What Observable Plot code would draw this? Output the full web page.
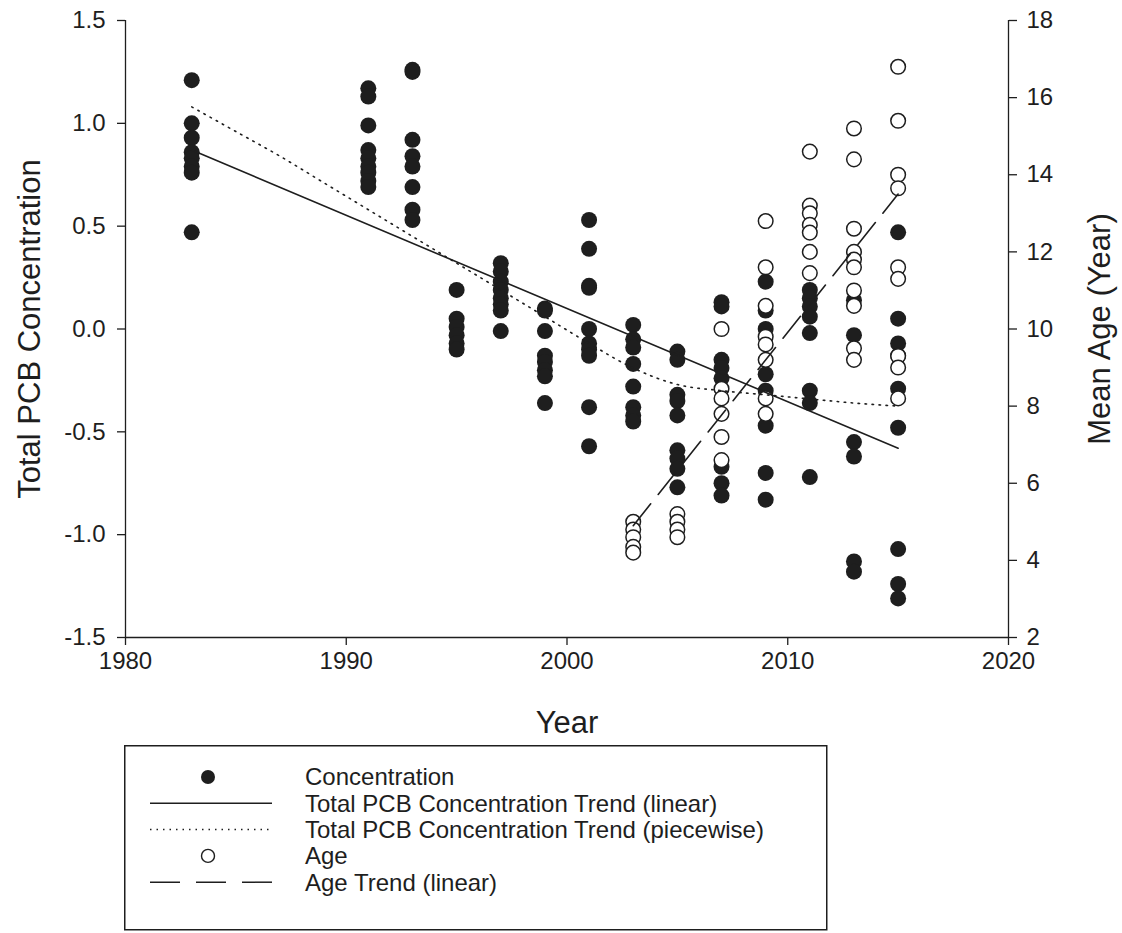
<!DOCTYPE html>
<html>
<head>
<meta charset="utf-8">
<script src="https://cdn.jsdelivr.net/npm/d3@7"></script>
<script src="https://cdn.jsdelivr.net/npm/@observablehq/plot@0.6"></script>
<style>
  body { margin: 0; background: #fff; font-family: "Liberation Sans", Arial, sans-serif; }
  #chart svg { display: block; }
  #legend { display: block; margin-left: 124px; }
</style>
</head>
<body>
<div id="chart"></div>
<svg id="legend" width="704" height="186"></svg>
<script>
// Sampling years and total PCB concentrations (left axis)
const concYears = [1983, 1991, 1993, 1995, 1997, 1999, 2001, 2003, 2005, 2007, 2009, 2011, 2013, 2015];
const concValues = [
  [1.21, 1.00, 0.93, 0.86, 0.83, 0.79, 0.76, 0.47],
  [1.17, 1.13, 0.99, 0.87, 0.83, 0.79, 0.76, 0.72, 0.69],
  [1.26, 1.25, 0.92, 0.84, 0.79, 0.69, 0.58, 0.53],
  [0.19, 0.05, 0.01, -0.03, -0.07, -0.10],
  [0.32, 0.28, 0.23, 0.19, 0.15, 0.12, 0.09, -0.01],
  [0.10, 0.09, -0.01, -0.13, -0.16, -0.20, -0.23, -0.36],
  [0.53, 0.39, 0.21, 0.20, 0.00, -0.07, -0.10, -0.13, -0.38, -0.57],
  [0.02, -0.05, -0.09, -0.17, -0.28, -0.38, -0.42, -0.45],
  [-0.11, -0.15, -0.32, -0.35, -0.42, -0.59, -0.63, -0.68, -0.77],
  [0.13, 0.11, -0.15, -0.19, -0.24, -0.67, -0.75, -0.81],
  [0.23, 0.09, 0.00, -0.22, -0.30, -0.47, -0.70, -0.83],
  [0.19, 0.15, 0.11, 0.06, -0.02, -0.30, -0.36, -0.72],
  [0.14, -0.03, -0.55, -0.62, -1.13, -1.18],
  [0.47, 0.05, -0.07, -0.13, -0.29, -0.48, -1.07, -1.24, -1.31]
];

// Mean fish age per sample (right axis)
const ageYears = [2003, 2005, 2007, 2009, 2011, 2013, 2015];
const ageValues = [
  [5.0, 4.8, 4.6, 4.35, 4.2],
  [5.2, 5.0, 4.8, 4.6],
  [10.0, 8.45, 8.2, 7.8, 7.2, 6.6],
  [12.8, 11.6, 10.6, 9.8, 9.6, 9.2, 8.2, 7.8],
  [14.6, 13.2, 13.0, 12.7, 12.5, 12.0, 11.45],
  [15.2, 14.4, 12.6, 12.0, 11.8, 11.6, 11.0, 10.6, 9.5, 9.2],
  [16.8, 15.4, 14.0, 13.65, 11.6, 11.3, 9.3, 9.0, 8.2]
];

// Fitted trends
const concLinearYears = [1983, 2015];
const concLinearValues = [0.87, -0.58];
const concPiecewiseYears = [1983, 1985, 1987, 1989, 1991, 1993, 1995, 1997, 1999, 2001, 2003, 2005, 2007, 2009, 2011, 2013, 2015];
const concPiecewiseValues = [1.08, 0.96, 0.84, 0.71, 0.58, 0.45, 0.32, 0.19, 0.06, -0.07, -0.19, -0.27, -0.30, -0.32, -0.34, -0.36, -0.375];
const ageTrendYears = [2003, 2015];
const ageTrendValues = [4.9, 13.5];

// Axis ticks
const yearTicks = [1980, 1990, 2000, 2010, 2020];
const concTicks = [-1.5, -1.0, -0.5, 0.0, 0.5, 1.0, 1.5];
const ageTicks = [2, 4, 6, 8, 10, 12, 14, 16, 18];

// The age axis (2–18) shares the frame with the concentration axis (-1.5–1.5)
const ageToConc = a => -1.5 + (a - 2) * 3 / 16;
const concToAge = c => 2 + (c + 1.5) * 16 / 3;

const conc = concYears.flatMap((year, i) => concValues[i].map(value => ({year, value})));
const ages = ageYears.flatMap((year, i) => ageValues[i].map(age => ({year, age})));
const linear = concLinearYears.map((year, i) => ({year, value: concLinearValues[i]}));
const piecewise = concPiecewiseYears.map((year, i) => ({year, value: concPiecewiseValues[i]}));
const ageTrend = ageTrendYears.map((year, i) => ({year, age: ageTrendValues[i]}));

const ink = "#1e1e1e";
const font = "'Liberation Sans', Arial, sans-serif";

const chart = Plot.plot({
  width: 1122,
  height: 745,
  marginLeft: 125,
  marginRight: 114,
  marginTop: 20,
  marginBottom: 108,
  style: {fontFamily: font, fontSize: "24px", color: ink, background: "#fff"},
  x: {domain: [1980, 2020]},
  y: {domain: [-1.5, 1.5]},
  marks: [
    Plot.axisX({ticks: yearTicks, tickFormat: d => String(d), tickSize: 8, tickPadding: 6, label: null, fontSize: 24, stroke: ink, strokeWidth: 1.3}),
    Plot.axisY({ticks: concTicks, tickFormat: v => v.toFixed(1), tickSize: 8, tickPadding: 12, label: null, fontSize: 24, stroke: ink, strokeWidth: 1.3}),
    Plot.axisY({anchor: "right", ticks: ageTicks.map(ageToConc), tickFormat: v => String(Math.round(concToAge(v))), tickSize: 8, tickPadding: 10, label: null, fontSize: 24, stroke: ink, strokeWidth: 1.3}),
    Plot.ruleX([1980], {stroke: ink, strokeWidth: 1.3}),
    Plot.ruleX([2020], {stroke: ink, strokeWidth: 1.3}),
    Plot.ruleY([-1.5], {stroke: ink, strokeWidth: 1.3}),
    Plot.dot(conc, {x: "year", y: "value", r: 8, fill: ink, stroke: "none"}),
    Plot.dot(ages, {x: "year", y: d => ageToConc(d.age), r: 7.3, fill: "#fff", stroke: ink, strokeWidth: 1.5}),
    Plot.line(linear, {x: "year", y: "value", stroke: ink, strokeWidth: 1.6}),
    Plot.line(piecewise, {x: "year", y: "value", curve: "monotone-x", stroke: ink, strokeWidth: 1.6, strokeDasharray: "1.5,5.5"}),
    Plot.line(ageTrend, {x: "year", y: d => ageToConc(d.age), stroke: ink, strokeWidth: 1.6, strokeDasharray: "28,12"}),
    Plot.text(["Total PCB Concentration"], {frameAnchor: "left", textAnchor: "middle", dx: -95, rotate: -90, fontSize: 31, fill: ink}),
    Plot.text(["Mean Age (Year)"], {frameAnchor: "right", textAnchor: "middle", dx: 92, rotate: -90, fontSize: 31, fill: ink}),
    Plot.text(["Year"], {frameAnchor: "bottom", textAnchor: "middle", lineAnchor: "middle", dy: 86, fontSize: 31, fill: ink})
  ]
});
document.getElementById("chart").appendChild(chart);

// Legend box below the chart
const legendItems = [
  {label: "Concentration", kind: "filled"},
  {label: "Total PCB Concentration Trend (linear)", kind: "solid"},
  {label: "Total PCB Concentration Trend (piecewise)", kind: "dotted"},
  {label: "Age", kind: "open"},
  {label: "Age Trend (linear)", kind: "dashed"}
];
const legend = d3.select("#legend");
legend.append("rect").attr("x", 0.75).attr("y", 0.75).attr("width", 702).attr("height", 184)
  .attr("fill", "#fff").attr("stroke", ink).attr("stroke-width", 1.5);
const row = legend.selectAll("g").data(legendItems).join("g")
  .attr("transform", (d, i) => `translate(0,${32 + i * 26.3})`);
row.filter(d => d.kind === "filled").append("circle").attr("cx", 84).attr("r", 7).attr("fill", ink);
row.filter(d => d.kind === "open").append("circle").attr("cx", 84).attr("r", 6.5)
  .attr("fill", "#fff").attr("stroke", ink).attr("stroke-width", 1.4);
row.filter(d => d.kind === "solid" || d.kind === "dotted" || d.kind === "dashed").append("line")
  .attr("x1", 26).attr("x2", 148).attr("stroke", ink).attr("stroke-width", 1.5)
  .attr("stroke-dasharray", d => d.kind === "dotted" ? "1.5,5" : d.kind === "dashed" ? "30,16" : null);
row.append("text").attr("x", 181).attr("dy", "0.35em").attr("font-family", font)
  .attr("font-size", 24).attr("fill", ink).text(d => d.label);
</script>
</body>
</html>
